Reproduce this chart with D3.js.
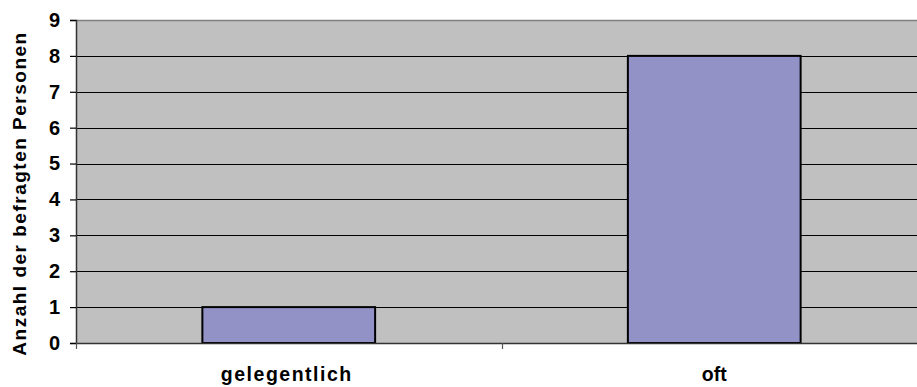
<!DOCTYPE html>
<html>
<head>
<meta charset="utf-8">
<script src="https://cdn.jsdelivr.net/npm/d3@7"></script>
<style>
  html, body { margin: 0; padding: 0; background: #ffffff; }
  svg { display: block; }
  text { font-family: "Liberation Sans", Arial, sans-serif; font-weight: bold; fill: #000; }
</style>
</head>
<body>
<svg id="chart" width="917" height="387"></svg>
<script>
// Survey answers: how often, and how many respondents said so
const categories = ["gelegentlich", "oft"];
const counts = [1, 8];
const yTicks = [0, 1, 2, 3, 4, 5, 6, 7, 8, 9];
const yTitle = "Anzahl der befragten Personen";

const svg = d3.select("#chart");
const plot = { left: 76, top: 20, right: 927, bottom: 343 };

const x = d3.scaleBand().domain(categories).range([plot.left, plot.right]).padding(0);
const y = d3.scaleLinear().domain([0, 9]).range([plot.bottom, plot.top]);
const barW = x.bandwidth() * 0.406;

// plot background
svg.append("rect")
  .attr("x", plot.left).attr("y", plot.top)
  .attr("width", plot.right - plot.left).attr("height", plot.bottom - plot.top)
  .attr("fill", "#c0c0c0");

// top border
svg.append("line")
  .attr("x1", plot.left).attr("x2", plot.right)
  .attr("y1", plot.top + 0.5).attr("y2", plot.top + 0.5)
  .attr("stroke", "#808080").attr("stroke-width", 1.5);

// horizontal gridlines
svg.append("g").selectAll("line")
  .data(yTicks.filter(d => d > 0 && d < 9))
  .join("line")
  .attr("x1", plot.left).attr("x2", plot.right)
  .attr("y1", d => Math.round(y(d)) + 0.5).attr("y2", d => Math.round(y(d)) + 0.5)
  .attr("stroke", "#000").attr("stroke-width", 1.2);

// bars
svg.append("g").selectAll("rect")
  .data(counts)
  .join("rect")
  .attr("x", (d, i) => x(categories[i]) + (x.bandwidth() - barW) / 2)
  .attr("y", d => y(d))
  .attr("width", barW)
  .attr("height", d => y(0) - y(d))
  .attr("fill", "#9292c7")
  .attr("stroke", "#000")
  .attr("stroke-width", 2);

// y axis
const yAxis = d3.axisLeft(y).tickValues(yTicks).tickSize(6).tickPadding(10).tickFormat(d3.format("d"));
const gy = svg.append("g").attr("transform", `translate(${plot.left},0)`).call(yAxis);
gy.attr("font-size", null).attr("font-family", null);
gy.select(".domain").attr("stroke", "#333").attr("stroke-width", 1.5);
gy.selectAll(".tick line").attr("stroke", "#000").attr("stroke-width", 1.2);
gy.selectAll(".tick text")
  .style("font-size", "20px")
  .attr("fill", "#000");

// x axis: ticks sit on band boundaries
const bounds = categories.map(c => x(c)).concat([plot.right]);
const gx = svg.append("g");
gx.append("line")
  .attr("x1", plot.left).attr("x2", plot.right)
  .attr("y1", plot.bottom + 0.5).attr("y2", plot.bottom + 0.5)
  .attr("stroke", "#333").attr("stroke-width", 1.5);
gx.selectAll("line.tk")
  .data(bounds)
  .join("line").attr("class", "tk")
  .attr("x1", d => Math.round(d) + 0.5).attr("x2", d => Math.round(d) + 0.5)
  .attr("y1", plot.bottom).attr("y2", plot.bottom + 6)
  .attr("stroke", "#555").attr("stroke-width", 1.2);
gx.selectAll("text")
  .data(categories)
  .join("text")
  .attr("x", (d, i) => x(d) + x.bandwidth() / 2 - (i === 0 ? 2 : 0))
  .attr("y", 381)
  .attr("text-anchor", "middle")
  .style("font-size", "19.5px")
  .attr("letter-spacing", (d, i) => i === 0 ? 1.5 : 0)
  .text(d => d);

// y axis title
svg.append("text")
  .attr("transform", `translate(26,${(plot.top + plot.bottom) / 2 + 12}) rotate(-90)`)
  .attr("text-anchor", "middle")
  .style("font-size", "19px")
  .attr("letter-spacing", 1.5)
  .text(yTitle);
</script>
</body>
</html>
